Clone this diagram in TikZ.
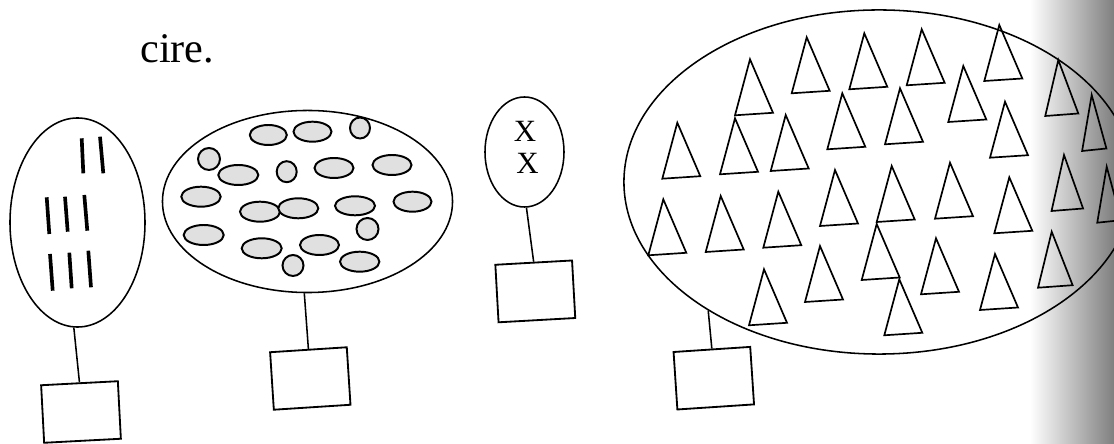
\documentclass[tikz,border=0pt]{standalone}
\usepackage{fontspec}
\setmainfont{Liberation Serif}
\usetikzlibrary{shapes.geometric}

\begin{document}
\begin{tikzpicture}[x=0.025cm,y=-0.025cm,
  set/.style={draw,ellipse,line width=1.1pt,inner sep=0pt},
  tag/.style={draw,rectangle,line width=1.3pt,minimum width=1.92cm,minimum height=1.44cm,inner sep=0pt},
  link/.style={line width=1.1pt},
  tally/.style={line width=2.6pt},
  blob/.style={draw,line width=1.4pt,fill=black!12},
  tri/.style={line width=1.2pt,line join=miter}]
\useasboundingbox (0,0) rectangle (1114,444);
\clip (0,0) rectangle (1114,444);
\shade[left color=white,right color=black!50] (1030,0) rectangle (1114,444);
\node[anchor=base west,inner sep=0pt,font=\fontsize{30}{30}\selectfont] (cap) at (140,63) {cire.};
% tally marks
\node[set,minimum width=3.375cm,minimum height=5.225cm] (le) at (77.5,222.5) {};
\foreach \a/\b/\c/\d in {81.7/138.3/83.3/173.3, 100/136.7/103.3/173.3,
  46.7/197.3/49.3/234, 65/196.7/67.7/231.7, 84.3/195/87.3/230.7,
  50/254/52.7/290.7, 69.3/252.7/71.7/288.3, 88.3/250.7/91/287.3}
  \draw[tally] (\a,\b) -- (\c,\d);
\node[tag,rotate=3] (lbox) at (81,412) {};
\draw[link] (le.268) -- (lbox.north);
% ovals
\node[set,minimum width=7.25cm,minimum height=4.55cm] (mid) at (307.5,201.5) {};
\foreach \cx/\cy/\rx/\ry in {268.3/135/18.5/10, 312.5/131.7/19/10, 360/128/10/10.5,
  209/159/11/11, 238.3/175/20/10, 286.7/171.7/10/10.5, 334/168/19.5/10, 392/165/19.5/10,
  201/196.7/19.7/10, 260/211.7/20/10, 298.3/208.3/20/10, 355/205.8/20/9.5, 412.5/201.7/19/10,
  367.5/229/11/11, 203.7/235/20/10, 261.7/248.3/20/10, 319.5/245/19.5/10,
  293/265.5/10.5/10.5, 359.7/261.7/19.7/10}
  \draw[blob] (\cx,\cy) ellipse [x radius=\rx,y radius=\ry];
\node[tag,rotate=3.7] (mbox) at (310.3,378.5) {};
\draw[link] (mid.268) -- (mbox.north);
% crosses
\node[set,minimum width=1.975cm,minimum height=2.75cm] (xx) at (524.5,152) {};
\node[anchor=base,inner sep=0pt,font=\fontsize{22}{22}\selectfont] (x1) at (525,142) {X};
\node[anchor=base,inner sep=0pt,font=\fontsize{22}{22}\selectfont] (x2) at (527.5,174) {X};
\node[tag,rotate=3.2] (xbox) at (535.3,291.4) {};
\draw[link] (xx.272.5) -- (xbox.north);
% triangles
\node[set,minimum width=12.75cm,minimum height=8.6cm] (big) at (879,182) {};
\foreach \ax/\ay/\w in {677.3/122.7/1, 750/59.3/1, 735/118.3/1, 785.7/115/1, 806.7/37.3/1,
  864.3/33.3/1, 842.3/93.3/1, 900/88.3/1, 921.7/29.3/1, 999.3/25/1, 963.3/66/1,
  1005/101.7/1, 1058.3/60/0.87, 1091.7/95/0.64, 1064/155/0.83, 1106.7/166.7/0.63,
  1051.7/231.7/0.91, 891.7/166/1, 950/162.7/1, 1009.3/177.3/1, 876.7/224/1,
  899.3/279.3/1, 936/238.3/1, 995/254/1, 663.3/199.3/1, 720.7/196/1, 778.3/191.7/1,
  835/170/1, 820/246/1, 764/269.3/1}
  \draw[tri] (\ax,\ay) -- ++(-15*\w,56) -- ++(38*\w,-2.5) -- cycle;
\node[tag,rotate=3.8] (rbox) at (713.8,378.2) {};
\draw[link] (big.217.7) -- (rbox.north);
\end{tikzpicture}
\end{document}
